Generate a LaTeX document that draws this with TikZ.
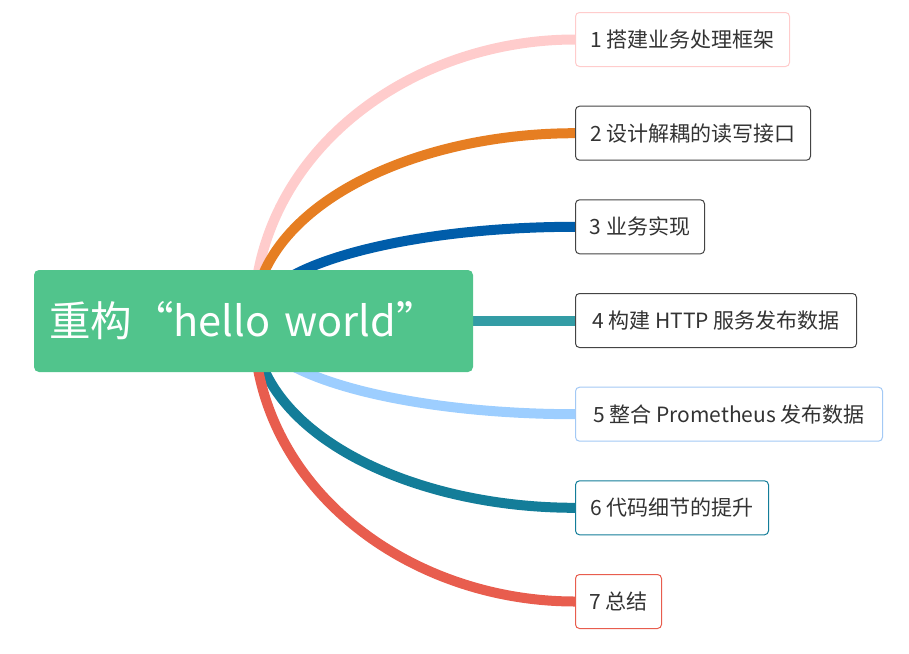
\documentclass[tikz,border=0pt]{standalone}
\usepackage{fontspec}
\setmainfont{Noto Sans CJK SC}
\usetikzlibrary{calc,backgrounds}
\definecolor{rootgreen}{RGB}{81,196,140}
\definecolor{cpink}{RGB}{255,204,204}
\definecolor{corange}{RGB}{230,126,34}
\definecolor{cblue}{RGB}{0,93,170}
\definecolor{cteal}{RGB}{51,156,165}
\definecolor{clblue}{RGB}{157,206,255}
\definecolor{cdteal}{RGB}{19,125,153}
\definecolor{cred}{RGB}{232,93,78}
\definecolor{bgray}{RGB}{68,68,68}
\definecolor{blblue}{RGB}{163,201,245}
\definecolor{textgray}{RGB}{51,51,51}
\newcommand\branchto[2]{\draw[branch,#1] (root.center) .. controls ($(root.center)!0.59!(root.center |- #2.west)$) and ($(#2.west)!0.52!(root.center |- #2.west)$) .. (#2.west);}
\begin{document}
\begin{tikzpicture}[x=1pt,y=-1pt,
  topic/.style={draw, line width=1pt, rounded corners=4pt, fill=white, minimum height=54pt, inner xsep=0pt, font=\fontsize{21}{25}\selectfont, text=textgray, anchor=west},
  rootbox/.style={fill=rootgreen, rounded corners=5pt, minimum height=102pt, text width=409pt, inner xsep=15pt, align=left, text=white, font=\fontsize{41.5}{48}\selectfont},
  branch/.style={line width=10pt}]
\useasboundingbox (0,0) rectangle (909,653);
\node[rootbox] (root) at (253.5,321) {\raisebox{-2pt}{重构“hello world”}};
\node[topic, draw=cpink, minimum width=214pt] (b1) at (575,39.5) {1 搭建业务处理框架};
\node[topic, draw=bgray, minimum width=235pt] (b2) at (575,133.2) {2 设计解耦的读写接口};
\node[topic, draw=bgray, minimum width=129pt] (b3) at (575,226.8) {3 业务实现};
\node[topic, draw=bgray, minimum width=281pt] (b4) at (575,320.5) {4 构建 HTTP 服务发布数据};
\node[topic, draw=blblue, minimum width=307pt] (b5) at (575,414.2) {5 整合 Prometheus 发布数据};
\node[topic, draw=cdteal, minimum width=193pt] (b6) at (575,507.8) {6 代码细节的提升};
\node[topic, draw=cred, minimum width=86pt] (b7) at (575,601.5) {7 总结};
\begin{scope}[on background layer]
\branchto{cpink}{b1}
\branchto{corange}{b2}
\branchto{cblue}{b3}
\draw[branch,cteal] (root.center |- b4.west) -- (b4.west);
\branchto{clblue}{b5}
\branchto{cdteal}{b6}
\branchto{cred}{b7}
\end{scope}
\end{tikzpicture}
\end{document}
